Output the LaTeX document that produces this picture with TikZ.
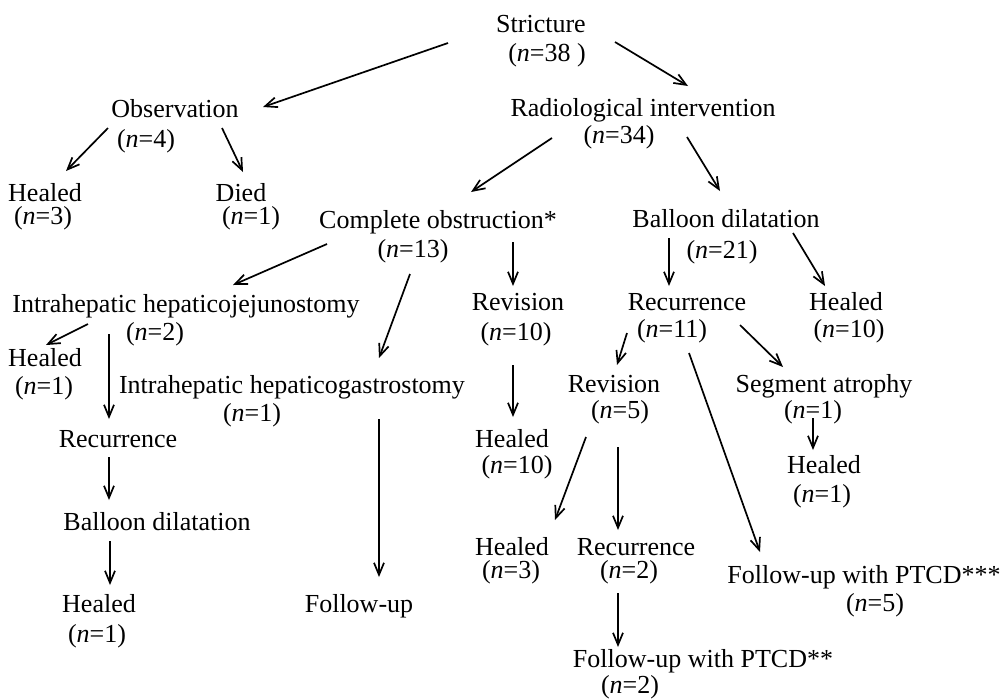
\documentclass[tikz,border=0pt]{standalone}
\usepackage{fontspec}
\setmainfont{Liberation Serif}
\usetikzlibrary{calc,arrows.meta}
\newcommand\ncnt[1]{(\textit{n}=#1)}
\begin{document}
\begin{tikzpicture}[x=0.5pt,y=-0.5pt,
  t/.style={anchor=base,inner sep=0pt,font=\fontsize{13pt}{15pt}\selectfont},
  arr/.style={line width=0.85pt,-{Straight Barb[length=6pt,width=5pt,line width=0.85pt]}}]
\useasboundingbox (0,0) rectangle (1000,698);
% nodes (line 1 and line 2)
\node[t] (str)  at (541,32)  {Stricture};
\node[t] (strn) at (547,61)  {(\textit{n}=38 )};
\node[t] (obs)  at (175,117) {Observation};
\node[t] (obsn) at (146,147) {\ncnt{4}};
\node[t] (rad)  at (643,116) {Radiological intervention};
\node[t] (radn) at (619,143) {\ncnt{34}};
\node[t] (hA)   at (45,201)  {Healed};
\node[t] (hAn)  at (43,224)  {\ncnt{3}};
\node[t] (died) at (241,201) {Died};
\node[t] (diedn) at (251,224) {\ncnt{1}};
\node[t] (comp) at (438,228) {Complete obstruction*};
\node[t] (compn) at (413,257) {\ncnt{13}};
\node[t] (bal)  at (726,227) {Balloon dilatation};
\node[t] (baln) at (722,258) {\ncnt{21}};
\node[t] (ihj)  at (186,312) {Intrahepatic hepaticojejunostomy};
\node[t] (ihjn) at (155,340) {\ncnt{2}};
\node[t] (hB)   at (45,366)  {Healed};
\node[t] (hBn)  at (44,394)  {\ncnt{1}};
\node[t] (ihg)  at (292,393) {Intrahepatic hepaticogastrostomy};
\node[t] (ihgn) at (252,421) {\ncnt{1}};
\node[t] (recA) at (118,447) {Recurrence};
\node[t] (balA) at (157,530) {Balloon dilatation};
\node[t] (hC)   at (99,612)  {Healed};
\node[t] (hCn)  at (97,642)  {\ncnt{1}};
\node[t] (fol)  at (359,612) {Follow-up};
\node[t] (revA) at (518,310) {Revision};
\node[t] (revAn) at (516,340) {\ncnt{10}};
\node[t] (hD)   at (512,447) {Healed};
\node[t] (hDn)  at (517,473) {\ncnt{10}};
\node[t] (recB) at (687,310) {Recurrence};
\node[t] (recBn) at (672,337) {\ncnt{11}};
\node[t] (hE)   at (846,310) {Healed};
\node[t] (hEn)  at (849,337) {\ncnt{10}};
\node[t] (revB) at (614,392) {Revision};
\node[t] (revBn) at (620,418) {\ncnt{5}};
\node[t] (seg)  at (824,392) {Segment atrophy};
\node[t] (segn) at (813,418) {\ncnt{1}};
\node[t] (hF)   at (824,473) {Healed};
\node[t] (hFn)  at (822,502) {\ncnt{1}};
\node[t] (hG)   at (512,555) {Healed};
\node[t] (hGn)  at (511,578) {\ncnt{3}};
\node[t] (recC) at (636,555) {Recurrence};
\node[t] (recCn) at (629,578) {\ncnt{2}};
\node[t] (pB)   at (703,667) {Follow-up with PTCD**};
\node[t] (pBn)  at (630,693) {\ncnt{2}};
\node[t] (pA)   at (864,583) {Follow-up with PTCD***};
\node[t] (pAn)  at (875,611) {\ncnt{5}};
% connectors
\draw[arr] ($(strn.base)+(-99,-18)$) -- ($(obs.base)+(88,-10)$);
\draw[arr] ($(strn.base)+(68,-19)$) -- ($(rad.base)+(45,-30)$);
\draw[arr] ($(obsn.base)+(-38,-19)$) -- ($(hA.base)+(21,-30)$);
\draw[arr] ($(obsn.base)+(76,-19)$) -- ($(died.base)+(2,-29)$);
\draw[arr] ($(radn.base)+(-67,-5)$) -- ($(comp.base)+(33,-36)$);
\draw[arr] ($(radn.base)+(68,-6)$) -- ($(bal.base)+(-6,-36)$);
\draw[arr] ($(compn.base)+(-86,-13)$) -- ($(ihj.base)+(47,-27)$);
\draw[arr] ($(compn.base)+(-3,17)$) -- ($(ihg.base)+(87,-35)$);
\draw[arr] ($(compn.base)+(100,-15)$) -- ($(revA.base)+(-5,-24)$);
\draw[arr] ($(baln.base)+(-53,-20)$) -- ($(recB.base)+(-18,-24)$);
\draw[arr] ($(baln.base)+(71,-25)$) -- ($(hE.base)+(-21,-24)$);
\draw[arr] ($(ihjn.base)+(-67,-16)$) -- ($(hB.base)+(1,-21)$);
\draw[arr] ($(ihjn.base)+(-46,-6)$) -- ($(recA.base)+(-9,-28)$);
\draw[arr] ($(recA.base)+(-9,10)$) -- ($(balA.base)+(-48,-30)$);
\draw[arr] ($(balA.base)+(-47,11)$) -- ($(hC.base)+(11,-27)$);
\draw[arr] ($(ihgn.base)+(127,-2)$) -- ($(fol.base)+(20,-35)$);
\draw[arr] ($(revAn.base)+(-3,25)$) -- ($(hD.base)+(1,-30)$);
\draw[arr] ($(recBn.base)+(-45,-4)$) -- ($(revB.base)+(3,-27)$);
\draw[arr] ($(recBn.base)+(68,-12)$) -- ($(seg.base)+(-41,-25)$);
\draw[arr] ($(recBn.base)+(17,16)$) -- ($(pA.base)+(-104,-31)$);
\draw[arr] ($(revBn.base)+(-34,19)$) -- ($(hG.base)+(43,-35)$);
\draw[arr] ($(revBn.base)+(-2,29)$) -- ($(recC.base)+(-18,-25)$);
\draw[arr] ($(segn.base)+(0,0)$) -- ($(hF.base)+(-11,-23)$);
\draw[arr] ($(recCn.base)+(-11,15)$) -- ($(pB.base)+(-85,-20)$);
\end{tikzpicture}
\end{document}
